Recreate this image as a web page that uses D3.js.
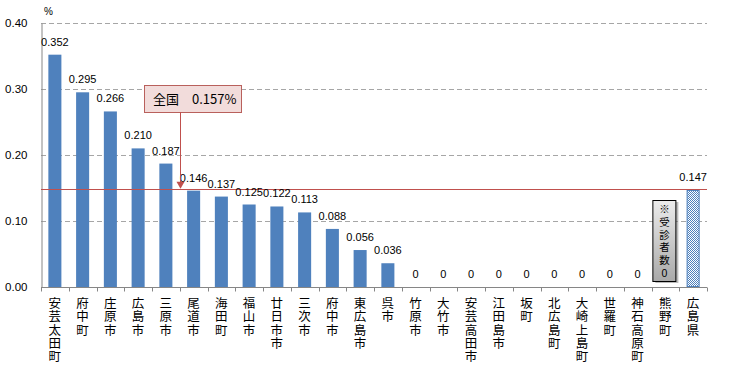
<!DOCTYPE html>
<html>
<head>
<meta charset="utf-8">
<script src="https://cdn.jsdelivr.net/npm/d3@7"></script>
<style>
  body { margin: 0; background: #fff; }
  svg text { font-family: "Liberation Sans", Arial, "Noto Sans CJK JP", sans-serif; }
  .jp { font-family: "Noto Sans CJK JP", sans-serif; }
</style>
</head>
<body>
<svg id="chart" width="738" height="368"></svg>
<script>
const names = ["安芸太田町", "府中町", "庄原市", "広島市", "三原市", "尾道市", "海田町", "福山市",
  "廿日市市", "三次市", "府中市", "東広島市", "呉市", "竹原市", "大竹市", "安芸高田市", "江田島市",
  "坂町", "北広島町", "大崎上島町", "世羅町", "神石高原町", "熊野町", "広島県"];
const values = [0.352, 0.295, 0.266, 0.210, 0.187, 0.146, 0.137, 0.125,
  0.122, 0.113, 0.088, 0.056, 0.036, 0, 0, 0, 0,
  0, 0, 0, 0, 0, null, 0.147];
const yTicks = [0, 0.1, 0.2, 0.3, 0.4];
const refLine = 0.149;
const nationalLabel = "全国　0.157%";
const noteChars = ["※", "受", "診", "者", "数", "0"];
const noteCategory = "熊野町";
const prefCategory = "広島県";

const svg = d3.select('#chart');
const margin = {top: 23, right: 31, bottom: 81, left: 41};
const width = 738, height = 368;

const x = d3.scaleBand()
  .domain(names)
  .range([margin.left, width - margin.right])
  .paddingInner(0.53)
  .paddingOuter(0.265);

const y = d3.scaleLinear()
  .domain([0, 0.4])
  .range([height - margin.bottom, margin.top]);

const defs = svg.append('defs');
const checker = defs.append('pattern')
  .attr('id', 'checker')
  .attr('width', 2).attr('height', 2)
  .attr('patternUnits', 'userSpaceOnUse');
checker.append('rect').attr('width', 2).attr('height', 2).attr('fill', '#fff');
checker.append('rect').attr('width', 1).attr('height', 1).attr('fill', '#4f81bd');
checker.append('rect').attr('x', 1).attr('y', 1).attr('width', 1).attr('height', 1).attr('fill', '#4f81bd');

const grad = defs.append('linearGradient')
  .attr('id', 'grayGrad')
  .attr('x1', 0).attr('y1', 0).attr('x2', 0).attr('y2', 1);
grad.append('stop').attr('offset', '0%').attr('stop-color', '#ececec');
grad.append('stop').attr('offset', '100%').attr('stop-color', '#a9a9a9');

// gridlines
svg.append('g')
  .selectAll('line')
  .data(yTicks.filter(d => d > 0))
  .join('line')
  .attr('x1', margin.left).attr('x2', width - margin.right)
  .attr('y1', d => Math.round(y(d)) + 0.5).attr('y2', d => Math.round(y(d)) + 0.5)
  .attr('stroke', '#a6a6a6')
  .attr('stroke-dasharray', '5,3');

// y axis
const yAxis = svg.append('g')
  .attr('transform', `translate(${margin.left + 0.5},0)`)
  .call(d3.axisLeft(y).tickValues(yTicks).tickFormat(d3.format('.2f')).tickSize(0).tickPadding(14));
yAxis.select('.domain').attr('stroke', '#868686');
yAxis.selectAll('text').attr('font-size', 11.5).attr('fill', '#000')
  .attr('font-family', '"Liberation Sans", Arial, sans-serif');

svg.append('text')
  .attr('x', 44).attr('y', 15)
  .attr('font-size', 10)
  .text('%');

// x axis
const base = Math.round(y(0)) + 0.5;
svg.append('line')
  .attr('x1', margin.left).attr('x2', width - margin.right)
  .attr('y1', base).attr('y2', base)
  .attr('stroke', '#868686');
const step = x.step();
svg.append('g')
  .selectAll('line')
  .data(d3.range(names.length + 1))
  .join('line')
  .attr('x1', i => Math.round(margin.left + i * step) + 0.5)
  .attr('x2', i => Math.round(margin.left + i * step) + 0.5)
  .attr('y1', base).attr('y2', base + 4)
  .attr('stroke', '#868686');

const cats = names.map((n, i) => ({name: n, value: values[i]}));

// bars
svg.append('g')
  .selectAll('rect')
  .data(cats.filter(d => d.value !== null && d.name !== prefCategory))
  .join('rect')
  .attr('x', d => x(d.name))
  .attr('y', d => y(d.value))
  .attr('width', x.bandwidth())
  .attr('height', d => y(0) - y(d.value))
  .attr('fill', '#4f81bd');

// prefecture bar (hatched)
const pref = cats.find(d => d.name === prefCategory);
svg.append('rect')
  .attr('x', x(pref.name) + 0.5)
  .attr('y', y(pref.value) + 0.5)
  .attr('width', x.bandwidth() - 1)
  .attr('height', y(0) - y(pref.value) - 1)
  .attr('fill', 'url(#checker)')
  .attr('stroke', '#4f81bd');

// reference line
svg.append('line')
  .attr('x1', margin.left).attr('x2', width - margin.right)
  .attr('y1', Math.round(y(refLine)) + 0.5).attr('y2', Math.round(y(refLine)) + 0.5)
  .attr('stroke', '#c0504d')
  .attr('stroke-width', 1);

// value labels
const fmt = d => d === 0 ? '0' : d3.format('.3f')(d);
svg.append('g')
  .selectAll('text')
  .data(cats.filter(d => d.value !== null))
  .join('text')
  .attr('x', d => x(d.name) + x.bandwidth() / 2)
  .attr('y', d => y(d.value) - 9)
  .attr('text-anchor', 'middle')
  .attr('font-size', 11)
  .text(d => fmt(d.value));

// category labels, stacked one character per line
const chars = names.flatMap(n => n.split('').map((c, i) => ({c, n, i})));
svg.append('g')
  .selectAll('text')
  .data(chars)
  .join('text')
  .attr('class', 'jp')
  .attr('font-size', 12.5)
  .attr('text-anchor', 'middle')
  .attr('x', d => x(d.n) + x.bandwidth() / 2)
  .attr('y', d => 308 + d.i * 13.3)
  .text(d => d.c);

// note box for 熊野町
const nx = x(noteCategory) + x.bandwidth() / 2;
svg.append('rect')
  .attr('x', nx - 10).attr('y', 202)
  .attr('width', 23).attr('height', 81)
  .attr('fill', '#777').attr('opacity', 0.5);
svg.append('rect')
  .attr('x', nx - 12.5).attr('y', 200.5)
  .attr('width', 23).attr('height', 81)
  .attr('fill', 'url(#grayGrad)')
  .attr('stroke', '#000');
svg.append('g')
  .selectAll('text')
  .data(noteChars)
  .join('text')
  .attr('class', (d, i) => i === noteChars.length - 1 ? null : 'jp')
  .attr('font-size', 10.5)
  .attr('text-anchor', 'middle')
  .attr('x', nx - 1)
  .attr('y', (d, i) => 213 + i * 12.8)
  .text(d => d);

// national annotation
const ax = 180;
svg.append('rect')
  .attr('x', 144.5).attr('y', 85.5)
  .attr('width', 97).attr('height', 27)
  .attr('fill', '#f2dcdb')
  .attr('stroke', '#b9605c');
svg.append('text')
  .attr('class', 'jp')
  .attr('x', 153).attr('y', 104)
  .attr('font-size', 13)
  .text(nationalLabel);
svg.append('line')
  .attr('x1', ax + 0.5).attr('x2', ax + 0.5)
  .attr('y1', 112).attr('y2', y(refLine) - 4)
  .attr('stroke', '#c0504d');
svg.append('path')
  .attr('d', `M${ax - 3.5},${y(refLine) - 7}L${ax + 4.5},${y(refLine) - 7}L${ax + 0.5},${y(refLine)}Z`)
  .attr('fill', '#c0504d');
</script>
</body>
</html>
